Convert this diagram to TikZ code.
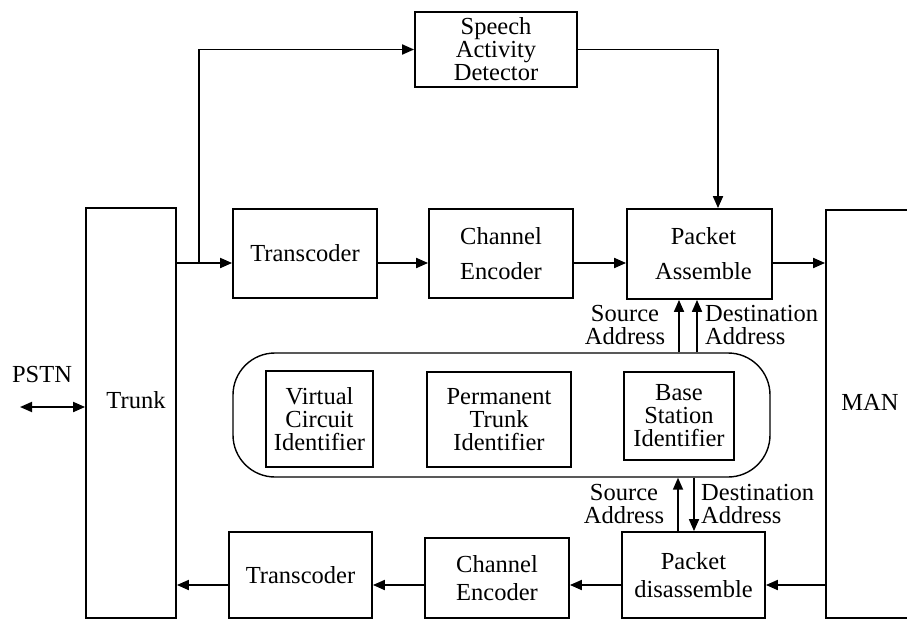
\documentclass[tikz,border=0pt]{standalone}
\usepackage{fontspec}
\setmainfont{Liberation Serif}
\usetikzlibrary{arrows.meta,calc}
\begin{document}
\begin{tikzpicture}[x=1pt,y=-1pt,
  every node/.style={font=\fontsize{24.5}{23}\selectfont},
  box/.style={draw, line width=1.8pt, inner sep=0pt, align=center},
  wide/.style={font=\fontsize{24.5}{35}\selectfont},
  mid/.style={font=\fontsize{24.5}{28}\selectfont},
  lbl/.style={inner sep=0pt, align=center},
  lbll/.style={inner sep=0pt, align=left, anchor=west},
  arr/.style={line width=1.8pt, -{Triangle[length=12pt,width=10pt]}},
  dbl/.style={line width=1.8pt, {Triangle[length=12pt,width=10pt]}-{Triangle[length=12pt,width=10pt]}}]
\useasboundingbox (0,0) rectangle (907,623);

% boxes
\node[box, minimum width=162pt, minimum height=75pt] (sad) at (496,49.5) {Speech\\Activity\\Detector};
\node[box, minimum width=90pt, minimum height=410pt] (trunk) at (131,413) {};
\node[lbl] (trunktxt) at (136,400) {Trunk};
\node[box, minimum width=89pt, minimum height=408pt] (man) at (870.5,414) {};
\node[lbl] (mantxt) at (870,402) {MAN};

\node[box, minimum width=144pt, minimum height=89pt] (tc1) at (305,253.5) {Transcoder};
\node[box, wide, minimum width=144pt, minimum height=89pt] (ce1) at (501,253.5) {Channel\\Encoder};
\node[box, wide, minimum width=145pt, minimum height=90pt] (pa) at (699.5,254) {\hspace*{8pt}Packet\\\hspace*{8pt}Assemble};

\node[box, line width=1.4pt, rounded corners=42pt, minimum width=537pt, minimum height=124pt] (idbox) at (501.5,415) {};
\node[box, minimum width=107pt, minimum height=96pt] (vci) at (319.5,419) {Virtual\\Circuit\\Identifier};
\node[box, minimum width=144pt, minimum height=95pt] (pti) at (499,419.5) {Permanent\\Trunk\\Identifier};
\node[box, minimum width=110pt, minimum height=88pt] (bsi) at (679,416) {Base\\Station\\Identifier};

\node[box, minimum width=143pt, minimum height=86pt] (tc2) at (300.5,575) {Transcoder};
\node[box, mid, minimum width=144pt, minimum height=80pt] (ce2) at (497,578) {Channel\\Encoder};
\node[box, mid, minimum width=143pt, minimum height=86pt] (pd) at (693.5,575) {Packet\\disassemble};

% labels
\node[lbl] (pstn) at (42,375) {PSTN};
\node[lbl] (lsa1) at (625,325) {Source\\Address};
\node[lbll] (lda1) at (705,325) {Destination\\Address};
\node[lbl] (lsa2) at (624,504) {Source\\Address};
\node[lbll] (lda2) at (701,504) {Destination\\Address};

% helper coordinates
\coordinate (r1) at (0,263);
\coordinate (r2) at (0,585);
\coordinate (pstnend) at (20,407);
\coordinate (br) at (199,263);
\coordinate (c718) at (718,0);
\coordinate (ua1) at (679,0);
\coordinate (ua2) at (697,0);
\coordinate (ub1) at (678,0);
\coordinate (ub2) at (694,0);

% connectors
\draw[dbl] (pstnend) -- (trunk.west |- pstnend);
\draw[arr] (trunk.east |- r1) -- (tc1.west |- r1);
\draw[arr] (br) |- (sad.west);
\draw[arr] (sad.east) -| (pa.north -| c718);
\draw[arr] (tc1.east |- r1) -- (ce1.west |- r1);
\draw[arr] (ce1.east |- r1) -- (pa.west |- r1);
\draw[arr] (pa.east |- r1) -- (man.west |- r1);

\draw[arr] (idbox.north -| ua1) -- (pa.south -| ua1);
\draw[arr] (idbox.north -| ua2) -- (pa.south -| ua2);
\draw[arr] (pd.north -| ub1) -- (idbox.south -| ub1);
\draw[arr] (idbox.south -| ub2) -- (pd.north -| ub2);

\draw[arr] (man.west |- r2) -- (pd.east |- r2);
\draw[arr] (pd.west |- r2) -- (ce2.east |- r2);
\draw[arr] (ce2.west |- r2) -- (tc2.east |- r2);
\draw[arr] (tc2.west |- r2) -- (trunk.east |- r2);
\end{tikzpicture}
\end{document}
